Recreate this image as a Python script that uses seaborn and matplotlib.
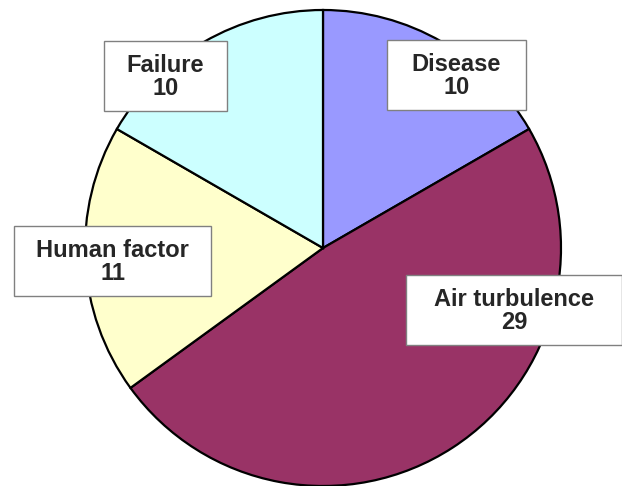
import matplotlib
matplotlib.use("Agg")
import matplotlib.pyplot as plt
from matplotlib.patches import Rectangle
import seaborn as sns

labels = ["Disease", "Air turbulence", "Human factor", "Failure"]
counts = [10, 29, 11, 10]
colors = ["#9999FF", "#993366", "#FFFFCC", "#CCFFFF"]

# label boxes (left, top, width, height) in pixels from the top-left corner
boxes = [(387, 40, 139, 70), (406, 275, 216, 70), (14, 226, 197, 70), (104, 41, 123, 70)]

sns.set_style("white")
plt.rcParams["font.family"] = ["Liberation Sans", "DejaVu Sans"]

W, H = 622, 486
fig = plt.figure(figsize=(W / 100, H / 100), dpi=100)
ax = fig.add_axes([0, 0, 1, 1])

ax.pie(counts, colors=colors, startangle=90, counterclock=False,
       center=(323, H - 248), radius=238,
       wedgeprops=dict(edgecolor="black", linewidth=1.6))

ax.set_xlim(0, W)
ax.set_ylim(0, H)
ax.set_aspect("equal")
ax.axis("off")

for lab, n, (x, y, w, h) in zip(labels, counts, boxes):
    ax.add_patch(Rectangle((x, H - y - h), w, h, facecolor="white",
                           edgecolor="#808080", linewidth=1, zorder=3))
    ax.text(x + w / 2, H - y - h / 2 - 1, f"{lab}\n{n}", ha="center", va="center",
            fontsize=17, fontweight="bold", linespacing=1.0, zorder=4)

fig.savefig("out.png", dpi=100)
